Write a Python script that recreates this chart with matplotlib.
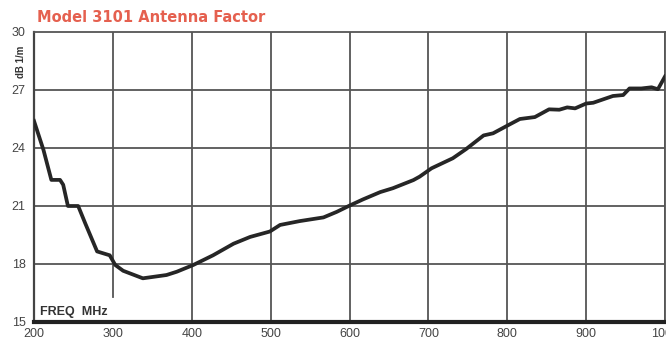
import matplotlib.pyplot as plt

# Antenna factor curve, model 3101
freq = [200, 212, 222, 233, 237, 243, 256, 265, 280, 296, 303, 313, 338, 368,
        381, 402, 427, 453, 474, 499, 512, 537, 567, 584, 600, 617, 639, 655,
        681, 689, 704, 731, 748, 770, 782, 803, 816, 835, 853, 866, 876, 886,
        900, 909, 934, 947, 955, 970, 983, 991, 1000]
af_db = [25.4, 23.9, 22.35, 22.35, 22.1, 21.0, 21.0, 20.1, 18.65, 18.45, 17.95,
         17.65, 17.26, 17.43, 17.6, 17.95, 18.45, 19.05, 19.4, 19.68, 20.02,
         20.22, 20.41, 20.7, 21.02, 21.34, 21.72, 21.92, 22.34, 22.52, 22.95,
         23.47, 23.95, 24.65, 24.76, 25.22, 25.5, 25.6, 26.0, 25.98, 26.1, 26.05,
         26.3, 26.34, 26.69, 26.74, 27.08, 27.08, 27.14, 27.04, 27.7]

x_ticks = [200, 300, 400, 500, 600, 700, 800, 900, 1000]
y_ticks = [15, 18, 21, 24, 27, 30]

fig = plt.figure(figsize=(6.66, 3.40), dpi=100)
ax = fig.add_axes([34 / 666, 18 / 340, 631 / 666, 290 / 340])
ax.set_xlim(200, 1000)
ax.set_ylim(15, 30)

grid_kw = dict(color="#555555", lw=1.3, zorder=1)
for x in x_ticks[1:]:
    # the 300 line stops short of the axis to leave room for the caption
    ax.axvline(x, ymin=0.085 if x == 300 else 0, ymax=1, **grid_kw)
for y in y_ticks[1:-1]:
    ax.axhline(y, **grid_kw)

ax.plot(freq, af_db, color="#262626", lw=2.7, solid_joinstyle="round", zorder=3)

for side in ["top", "right"]:
    ax.spines[side].set_color("#555555")
    ax.spines[side].set_linewidth(1.3)
ax.spines["left"].set_color("#444444")
ax.spines["left"].set_linewidth(1.6)
ax.spines["bottom"].set_color("#222222")
ax.spines["bottom"].set_linewidth(3)

ax.set_xticks(x_ticks)
ax.set_yticks(y_ticks)
ax.tick_params(axis="x", length=0, labelsize=9, labelcolor="#444444", pad=4)
ax.tick_params(axis="y", length=0, labelsize=9, labelcolor="#444444", pad=6)
for lbl in ax.get_xticklabels() + ax.get_yticklabels():
    lbl.set_fontfamily("Liberation Sans")

ax.text(208, 15.35, "FREQ  MHz", fontsize=9, fontweight="bold",
        color="#333333", family="Liberation Sans")

fig.text(21 / 666, 1 - 62 / 340, "dB 1/m", rotation=90, ha="center", va="center",
         fontsize=7, fontweight="bold", color="#333333", family="Liberation Sans")
fig.text(37 / 666, 1 - 18 / 340, "Model 3101 Antenna Factor", ha="left", va="center",
         fontsize=10.5, fontweight="bold", color="#e5604f", family="DejaVu Sans")

fig.savefig("out.png", dpi=100)
